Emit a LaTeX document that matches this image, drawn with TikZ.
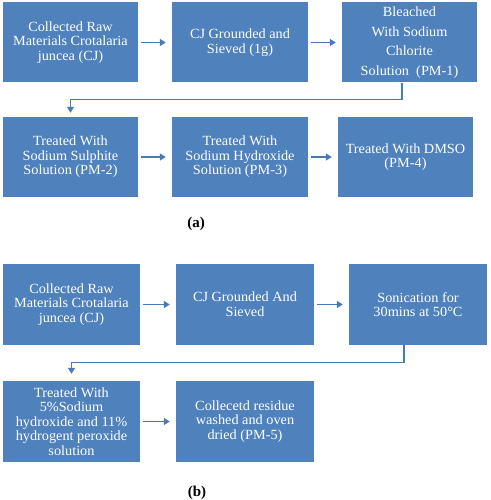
\documentclass[tikz,border=0pt]{standalone}
\usepackage{fontspec}
\setmainfont{Liberation Serif}
\newfontfamily\boxfont[FakeStretch=1.02]{Liberation Serif}
\usetikzlibrary{arrows.meta,calc}
\definecolor{boxblue}{RGB}{79,129,189}
\definecolor{arrblue}{RGB}{74,122,180}
\tikzset{
  stepbox/.style={fill=boxblue, draw=none, text=white, align=center,
    inner sep=0pt, minimum height=80pt,
    font=\boxfont\fontsize{14}{14.6}\selectfont},
  flow/.style={draw=arrblue, line width=1.3pt, -{Triangle[length=6pt,width=7pt]}},
  caplabel/.style={font=\bfseries\fontsize{15}{17}\selectfont, text=black}
}
\begin{document}
\begin{tikzpicture}[x=1pt,y=-1pt]
\useasboundingbox (0,0) rectangle (490,500);
% (a)
\node[stepbox, minimum width=135pt] (a1) at (70.5,42.5) {Collected Raw\\Materials Crotalaria\\juncea (CJ)};
\node[stepbox, minimum width=136pt] (a2) at (240,42.5) {CJ Grounded and\\Sieved (1g)};
\node[stepbox, minimum width=135pt, font=\boxfont\fontsize{14}{19.5}\selectfont] (a3) at (409.5,42.5) {Bleached\\With Sodium\\Chlorite\\Solution~ (PM-1)};
\node[stepbox, minimum width=135pt] (a4) at (70.5,157) {Treated With\\Sodium Sulphite\\Solution (PM-2)};
\node[stepbox, minimum width=136pt] (a5) at (240,157) {Treated With\\Sodium Hydroxide\\Solution (PM-3)};
\node[stepbox, minimum width=135pt] (a6) at (405.5,157) {Treated With DMSO\\(PM-4)};
\node[caplabel] (la) at (196,224) {(a)};
\draw[flow, shorten <=3pt, shorten >=6pt] (a1) -- (a2);
\draw[flow, shorten <=3pt, shorten >=6pt] (a2) -- (a3);
\draw[flow, shorten <=3pt, shorten >=6pt] (a4) -- (a5);
\draw[flow, shorten <=3pt, shorten >=6pt] (a5) -- (a6);
\draw[flow, shorten >=4pt] ([xshift=-7.5pt]a3.south) -- ++(0,17) -| (a4.north);
% (b)
\node[stepbox, minimum width=137pt, minimum height=81pt] (b1) at (71.5,304.5) {Collected Raw\\Materials Crotalaria\\juncea (CJ)};
\node[stepbox, minimum width=138pt, minimum height=81pt] (b2) at (245,304.5) {CJ Grounded And\\Sieved};
\node[stepbox, minimum width=138pt, minimum height=81pt] (b3) at (418,304.5) {Sonication for\\30mins at 50°C};
\node[stepbox, minimum width=137pt, minimum height=81pt] (b4) at (71.5,421.5) {Treated With\\5\%Sodium\\hydroxide and 11\%\\hydrogent peroxide\\solution};
\node[stepbox, minimum width=138pt, minimum height=81pt] (b5) at (245,421.5) {Collecetd residue\\washed and oven\\dried (PM-5)};
\node[caplabel] (lb) at (197,493) {(b)};
\draw[flow, shorten <=3pt, shorten >=6pt] (b1) -- (b2);
\draw[flow, shorten <=3pt, shorten >=6pt] (b2) -- (b3);
\draw[flow, shorten <=3pt, shorten >=6pt] (b4) -- (b5);
\draw[flow, shorten >=7pt] ([xshift=-14pt]b3.south) -- ++(0,17) -| (b4.north);
\end{tikzpicture}
\end{document}
